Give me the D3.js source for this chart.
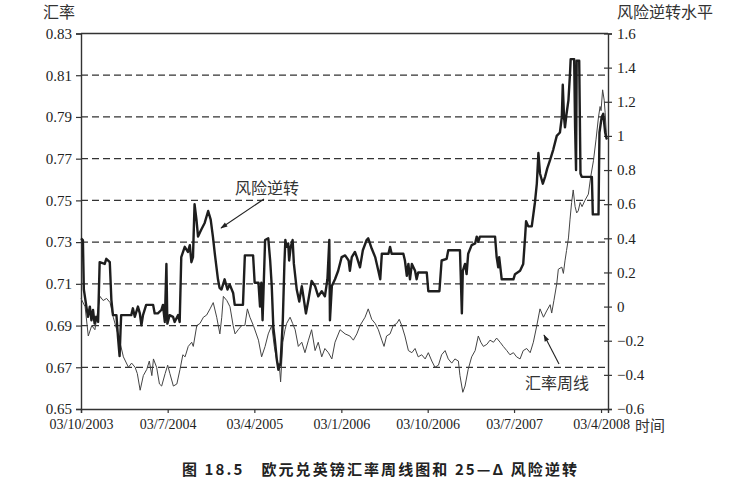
<!DOCTYPE html>
<html>
<head>
<meta charset="utf-8">
<script src="https://cdn.jsdelivr.net/npm/d3@7"></script>
<style>
	body { margin: 0; background: #fff; }
	svg { display: block; }
	svg text.num { font-family: 'Liberation Serif', 'Times New Roman', Times, serif !important; }
</style>
</head>
<body>
<div id="chart"></div>
<script>
/*
 * EUR/GBP weekly rate (left axis) and 25-delta risk reversal (right axis).
 * Days are counted from 2003-10-03.
 */
var startDate = new Date(2003, 9, 3);
var endDay = 1666;

var rateDay = [
	0, 13, 23, 34, 44, 55, 60, 70, 81, 92,
	102, 113, 123, 134, 150, 160, 171, 178, 187, 197,
	208, 216, 224, 229, 239, 248, 255, 266, 274, 281,
	292, 303, 313, 322, 329, 339, 350, 355, 366, 376,
	387, 397, 408, 418, 429, 439, 445, 450, 461, 471,
	481, 487, 497, 508, 518, 526, 534, 545, 561, 571,
	582, 592, 603, 611, 619, 627, 631, 638, 645, 650,
	661, 669, 677, 687, 698, 708, 719, 729, 740, 750,
	761, 771, 782, 793, 803, 819, 835, 850, 861, 872,
	882, 898, 908, 919, 930, 940, 951, 958, 966, 977,
	987, 998, 1006, 1014, 1024, 1035, 1046, 1056, 1066, 1077,
	1088, 1098, 1109, 1119, 1130, 1140, 1151, 1161, 1172, 1182,
	1193, 1198, 1207, 1214, 1224, 1235, 1246, 1256, 1264, 1272,
	1283, 1293, 1304, 1314, 1325, 1335, 1346, 1356, 1367, 1377,
	1388, 1398, 1409, 1420, 1430, 1441, 1451, 1462, 1472, 1483,
	1488, 1495, 1504, 1509, 1520, 1525, 1530, 1535, 1541, 1546,
	1551, 1556, 1562, 1567, 1572, 1578, 1584, 1593, 1604, 1611,
	1620, 1628, 1636, 1641, 1644, 1649, 1654, 1657, 1662
];
var rateValue = [
	0.703, 0.699, 0.685, 0.690, 0.688, 0.699, 0.704, 0.702, 0.703, 0.701,
	0.694, 0.688, 0.682, 0.675, 0.670, 0.672, 0.670, 0.667, 0.659, 0.666,
	0.669, 0.673, 0.666, 0.674, 0.670, 0.662, 0.661, 0.667, 0.671, 0.667,
	0.661, 0.662, 0.669, 0.676, 0.675, 0.680, 0.682, 0.680, 0.690, 0.691,
	0.694, 0.695, 0.698, 0.701, 0.694, 0.686, 0.694, 0.704, 0.702, 0.699,
	0.690, 0.686, 0.688, 0.690, 0.690, 0.698, 0.694, 0.690, 0.683, 0.675,
	0.680, 0.686, 0.690, 0.680, 0.673, 0.671, 0.663, 0.682, 0.688, 0.691,
	0.694, 0.691, 0.688, 0.680, 0.682, 0.677, 0.683, 0.688, 0.678, 0.682,
	0.675, 0.679, 0.677, 0.674, 0.682, 0.688, 0.686, 0.685, 0.683, 0.686,
	0.690, 0.694, 0.698, 0.693, 0.691, 0.688, 0.683, 0.680, 0.685, 0.686,
	0.690, 0.691, 0.693, 0.690, 0.685, 0.678, 0.677, 0.679, 0.675, 0.676,
	0.674, 0.677, 0.673, 0.670, 0.671, 0.676, 0.678, 0.674, 0.672, 0.674,
	0.673, 0.666, 0.658, 0.661, 0.669, 0.675, 0.678, 0.685, 0.682, 0.680,
	0.681, 0.683, 0.682, 0.684, 0.682, 0.680, 0.678, 0.676, 0.677, 0.675,
	0.674, 0.678, 0.679, 0.677, 0.682, 0.690, 0.698, 0.694, 0.697, 0.700,
	0.696, 0.702, 0.710, 0.717, 0.718, 0.715, 0.721, 0.726, 0.732, 0.741,
	0.749, 0.755, 0.747, 0.744, 0.745, 0.749, 0.747, 0.750, 0.753, 0.761,
	0.769, 0.779, 0.790, 0.795, 0.793, 0.803, 0.798, 0.792, 0.779
];

var rrDay = [
	0, 6, 9, 17, 22, 28, 33, 38, 43, 48,
	54, 59, 75, 80, 91, 96, 101, 112, 117, 122,
	125, 127, 159, 164, 170, 180, 186, 191, 196, 206,
	228, 233, 243, 254, 259, 265, 270, 273, 280, 291,
	296, 307, 312, 317, 328, 338, 344, 349, 354, 359,
	365, 370, 380, 391, 402, 410, 417, 423, 433, 438,
	444, 454, 463, 470, 481, 486, 512, 518, 544, 549,
	561, 566, 570, 574, 579, 582, 592, 598, 603, 608,
	613, 619, 624, 631, 638, 643, 646, 650, 655, 658,
	663, 669, 673, 682, 690, 698, 703, 711, 719, 729,
	740, 750, 761, 771, 779, 785, 787, 793, 803, 813,
	824, 835, 846, 850, 856, 866, 872, 882, 891, 903,
	908, 919, 930, 940, 946, 951, 972, 977, 982, 1019,
	1024, 1030, 1035, 1040, 1046, 1056, 1061, 1066, 1093, 1098,
	1133, 1140, 1156, 1161, 1198, 1200, 1204, 1207, 1214, 1219,
	1224, 1235, 1246, 1251, 1256, 1261, 1309, 1314, 1319, 1322,
	1330, 1367, 1372, 1388, 1398, 1404, 1407, 1414, 1425, 1435,
	1441, 1446, 1451, 1460, 1467, 1474, 1483, 1493, 1504, 1514,
	1520, 1523, 1527, 1530, 1535, 1541, 1546, 1548, 1559, 1562,
	1565, 1567, 1575, 1579, 1583, 1615, 1618, 1636, 1639, 1646,
	1651, 1657, 1662
];
var rrValue = [
	0.40, 0.39, 0.10, 0.00, -0.06, 0.00, -0.08, -0.02, -0.10, -0.06,
	-0.09, 0.26, 0.25, 0.28, 0.26, 0.04, -0.05, -0.05, -0.18, -0.29,
	-0.14, -0.05, -0.05, -0.01, -0.06, 0.00, -0.04, -0.11, -0.05, 0.01,
	0.01, -0.04, -0.04, -0.02, 0.01, -0.09, 0.25, -0.10, -0.05, -0.06,
	-0.09, -0.05, -0.09, 0.29, 0.35, 0.32, 0.36, 0.26, 0.29, 0.60,
	0.51, 0.41, 0.45, 0.49, 0.56, 0.51, 0.41, 0.31, 0.16, 0.11,
	0.10, 0.16, 0.10, 0.13, 0.08, 0.01, 0.01, 0.30, 0.30, 0.14,
	0.14, 0.00, 0.14, -0.08, 0.21, 0.39, 0.40, 0.27, 0.12, -0.12,
	-0.20, -0.31, -0.37, -0.33, -0.08, 0.25, 0.39, 0.35, 0.37, 0.27,
	0.35, 0.39, 0.25, 0.10, 0.03, 0.12, 0.06, -0.04, 0.04, 0.15,
	0.12, 0.06, 0.09, 0.06, 0.16, 0.39, -0.08, 0.12, 0.16, 0.21,
	0.29, 0.30, 0.27, 0.21, 0.29, 0.32, 0.29, 0.23, 0.33, 0.39,
	0.40, 0.34, 0.29, 0.21, 0.16, 0.31, 0.31, 0.35, 0.31, 0.31,
	0.27, 0.18, 0.25, 0.16, 0.25, 0.21, 0.16, 0.20, 0.20, 0.09,
	0.09, 0.27, 0.28, 0.33, 0.33, 0.21, -0.04, 0.21, 0.25, 0.19,
	0.31, 0.36, 0.37, 0.41, 0.38, 0.41, 0.41, 0.29, 0.23, 0.29,
	0.16, 0.16, 0.19, 0.21, 0.25, 0.41, 0.50, 0.47, 0.47, 0.61,
	0.72, 0.90, 0.78, 0.72, 0.76, 0.81, 0.86, 0.92, 1.00, 1.02,
	1.11, 1.30, 1.11, 1.05, 1.13, 1.21, 1.37, 1.45, 1.45, 1.05,
	0.80, 1.44, 1.44, 0.78, 0.76, 0.76, 0.54, 0.54, 1.02, 1.11,
	1.13, 1.02, 0.98
];

var leftTicks = [0.65, 0.67, 0.69, 0.71, 0.73, 0.75, 0.77, 0.79, 0.81, 0.83];
var rightTicks = [-0.6, -0.4, -0.2, 0, 0.2, 0.4, 0.6, 0.8, 1, 1.2, 1.4, 1.6];
var dateTicks = ["2003-10-03", "2004-07-03", "2005-04-03", "2006-01-03", "2006-10-03", "2007-07-03", "2008-04-03"];

var cjk = '"Noto Sans CJK SC", sans-serif';

var W = 733, H = 499;
var margin = {top: 33.5, right: 125, bottom: 90, left: 81};
var innerW = W - margin.left - margin.right;
var innerH = H - margin.top - margin.bottom;

var svg = d3.select("#chart").append("svg")
	.attr("width", W)
	.attr("height", H);

var g = svg.append("g")
	.attr("transform", "translate(" + margin.left + "," + margin.top + ")");

var x = d3.scaleTime()
	.domain([startDate, d3.timeDay.offset(startDate, endDay)])
	.range([0, innerW]);
var yL = d3.scaleLinear().domain([0.65, 0.83]).range([innerH, 0]);
var yR = d3.scaleLinear().domain([-0.6, 1.6]).range([innerH, 0]);

function toPoints(days, vals) {
	return days.map(function(d, i) {
		return {date: d3.timeDay.offset(startDate, d), v: vals[i]};
	});
}
var rate = toPoints(rateDay, rateValue);
var rr = toPoints(rrDay, rrValue);

// dashed grid on the left-axis ticks
g.selectAll(".grid")
	.data(leftTicks.slice(1, -1))
	.enter().append("line")
		.attr("class", "grid")
		.attr("x1", 0).attr("x2", innerW)
		.attr("y1", function(d) { return yL(d); })
		.attr("y2", function(d) { return yL(d); })
		.attr("stroke", "#333")
		.attr("stroke-width", 1.3)
		.attr("stroke-dasharray", "7,4");

// top frame line
g.append("line")
	.attr("x1", 0).attr("x2", innerW)
	.attr("y1", 0).attr("y2", 0)
	.attr("stroke", "#333").attr("stroke-width", 1.4);

// axes
var axL = d3.axisLeft(yL).tickValues(leftTicks).tickSize(5).tickPadding(4)
	.tickFormat(d3.format(".2f"));
var axR = d3.axisRight(yR).tickValues(rightTicks).tickSize(4).tickPadding(5)
	.tickFormat(function(d) { return d3.format("")(+d.toFixed(1)); });
var axB = d3.axisBottom(x)
	.tickValues(dateTicks.map(function(s) { return d3.timeParse("%Y-%m-%d")(s); }))
	.tickSize(4).tickPadding(6)
	.tickFormat(d3.timeFormat("%d/%-m/%Y"));

var gl = g.append("g").call(axL);
var gr = g.append("g").attr("transform", "translate(" + innerW + ",0)").call(axR);
var gb = g.append("g").attr("transform", "translate(0," + innerH + ")").call(axB);

// right ticks cross the axis line
gr.selectAll(".tick line").attr("x1", -4);

[gl, gr, gb].forEach(function(a) {
	a.attr("font-family", null);
	a.select(".domain").attr("stroke", "#333").attr("stroke-width", 1.4);
	a.selectAll(".tick line").attr("stroke", "#333").attr("stroke-width", 1.2);
	a.selectAll("text").attr("class", "num").attr("fill", "#222");
});
gl.selectAll("text").style("font-size", "15px");
gr.selectAll("text").style("font-size", "15px");
gb.selectAll("text").style("font-size", "14px").attr("dy", "0.71em");

// series
g.append("path")
	.datum(rate)
	.attr("fill", "none")
	.attr("stroke", "#444")
	.attr("stroke-width", 1)
	.attr("stroke-linejoin", "round")
	.attr("d", d3.line()
		.x(function(d) { return x(d.date); })
		.y(function(d) { return yL(d.v); }));

g.append("path")
	.datum(rr)
	.attr("fill", "none")
	.attr("stroke", "#1e1e1e")
	.attr("stroke-width", 2.4)
	.attr("stroke-linejoin", "round")
	.attr("d", d3.line()
		.x(function(d) { return x(d.date); })
		.y(function(d) { return yR(d.v); }));

// labels
function label(px, py, size, txt) {
	return svg.append("text")
		.attr("x", px).attr("y", py)
		.style("font-family", cjk)
		.style("font-size", size + "px")
		.style("fill", "#333")
		.text(txt);
}
label(43, 18, 16, "汇率");
label(617, 18, 16, "风险逆转水平");
label(635, 431, 15, "时间");

// annotations with arrows
svg.append("defs").append("marker")
	.attr("id", "arrow")
	.attr("viewBox", "0 0 10 10")
	.attr("refX", 9).attr("refY", 5)
	.attr("markerWidth", 9).attr("markerHeight", 7)
	.attr("markerUnits", "userSpaceOnUse")
	.attr("orient", "auto")
	.append("path")
		.attr("d", "M0,1.5L10,5L0,8.5Z")
		.attr("fill", "#222");

label(235, 194, 16, "风险逆转");
svg.append("line")
	.attr("x1", 264).attr("y1", 199)
	.attr("x2", 221).attr("y2", 228)
	.attr("stroke", "#222").attr("stroke-width", 1.1)
	.attr("marker-end", "url(#arrow)");

label(525, 389, 16, "汇率周线");
svg.append("line")
	.attr("x1", 559).attr("y1", 364)
	.attr("x2", 544).attr("y2", 335)
	.attr("stroke", "#222").attr("stroke-width", 1.1)
	.attr("marker-end", "url(#arrow)");

// caption
label(182, 475, 15, "图 18.5　欧元兑英镑汇率周线图和 25—Δ 风险逆转")
	.attr("textLength", 395)
	.attr("lengthAdjust", "spacing")
	.style("font-weight", "bold")
	.style("fill", "#222");
</script>
</body>
</html>
